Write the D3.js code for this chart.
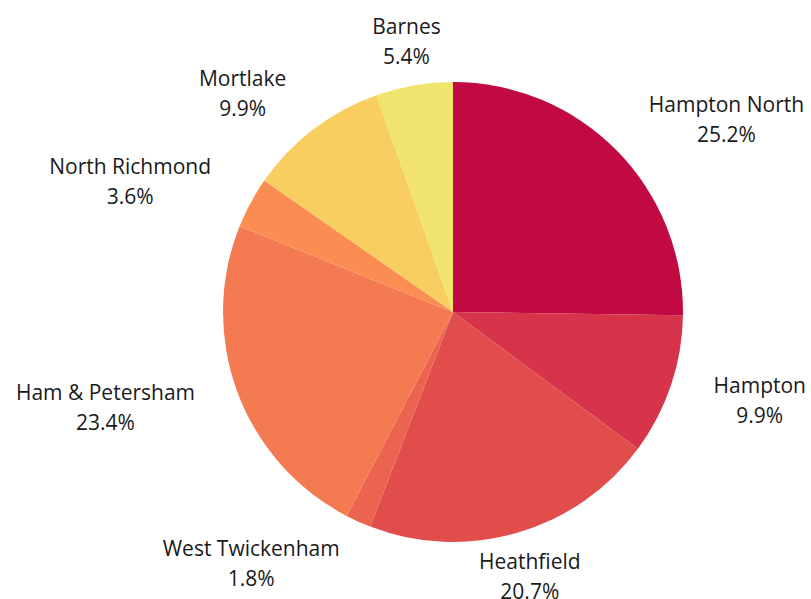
<!DOCTYPE html>
<html>
<head>
<meta charset="utf-8">
<script src="https://cdn.jsdelivr.net/npm/d3@7"></script>
<style>
  html, body { margin: 0; padding: 0; background: #ffffff; }
  svg { display: block; }
</style>
</head>
<body>
<svg id="chart" width="811" height="599"></svg>
<script>
// Ward shares, clockwise from 12 o'clock
const wards = ["Hampton North", "Hampton", "Heathfield", "West Twickenham",
               "Ham & Petersham", "North Richmond", "Mortlake", "Barnes"];
const shares = [25.2, 9.9, 20.7, 1.8, 23.4, 3.6, 9.9, 5.4];
const colours = ["#c20a42", "#d7334a", "#e14d4b", "#ec6450",
                 "#f47a52", "#fc8d52", "#f8ce60", "#f0e46e"];

const width = 811, height = 599;
const cx = 453, cy = 312, radius = 230, labelRadius = 275;

const svg = d3.select("#chart");
const g = svg.append("g").attr("transform", `translate(${cx},${cy})`);

const data = wards.map((w, i) => ({ ward: w, share: shares[i] }));

const pie = d3.pie().value(d => d.share).sort(null);
const arc = d3.arc().innerRadius(0).outerRadius(radius);
const colour = d3.scaleOrdinal().domain(wards).range(colours);

const arcs = pie(data);

g.selectAll("path.slice")
  .data(arcs)
  .join("path")
  .attr("class", "slice")
  .attr("d", arc)
  .attr("fill", d => colour(d.data.ward));

// Labels sit just outside the rim on each slice's middle angle
g.selectAll("text.label")
  .data(arcs)
  .join("text")
  .attr("class", "label")
  .attr("font-family", "'Open Sans', sans-serif")
  .attr("font-size", 21)
  .attr("fill", "#1a1a1a")
  .attr("text-anchor", "middle")
  .each(function (d) {
    const a = (d.startAngle + d.endAngle) / 2;
    const x = Math.sin(a) * labelRadius;
    const y = -Math.cos(a) * labelRadius;
    const s = Math.sin(a);
    const t = d3.select(this);
    const lines = [d.data.ward, d3.format(".1f")(d.data.share) + "%"];
    const spans = lines.map((txt, i) =>
      t.append("tspan")
        .attr("x", 0)
        .attr("y", y + (i === 0 ? -15 : 15))
        .attr("dominant-baseline", "central")
        .text(txt));
    // widest line decides where the centred block goes
    const w = d3.max(spans, sp => sp.node().getComputedTextLength());
    let bx = x;
    if (s > 0.35) bx = x + w / 2;
    else if (s < -0.35) bx = x - w / 2;
    spans.forEach(sp => sp.attr("x", bx));
  });
</script>
</body>
</html>
